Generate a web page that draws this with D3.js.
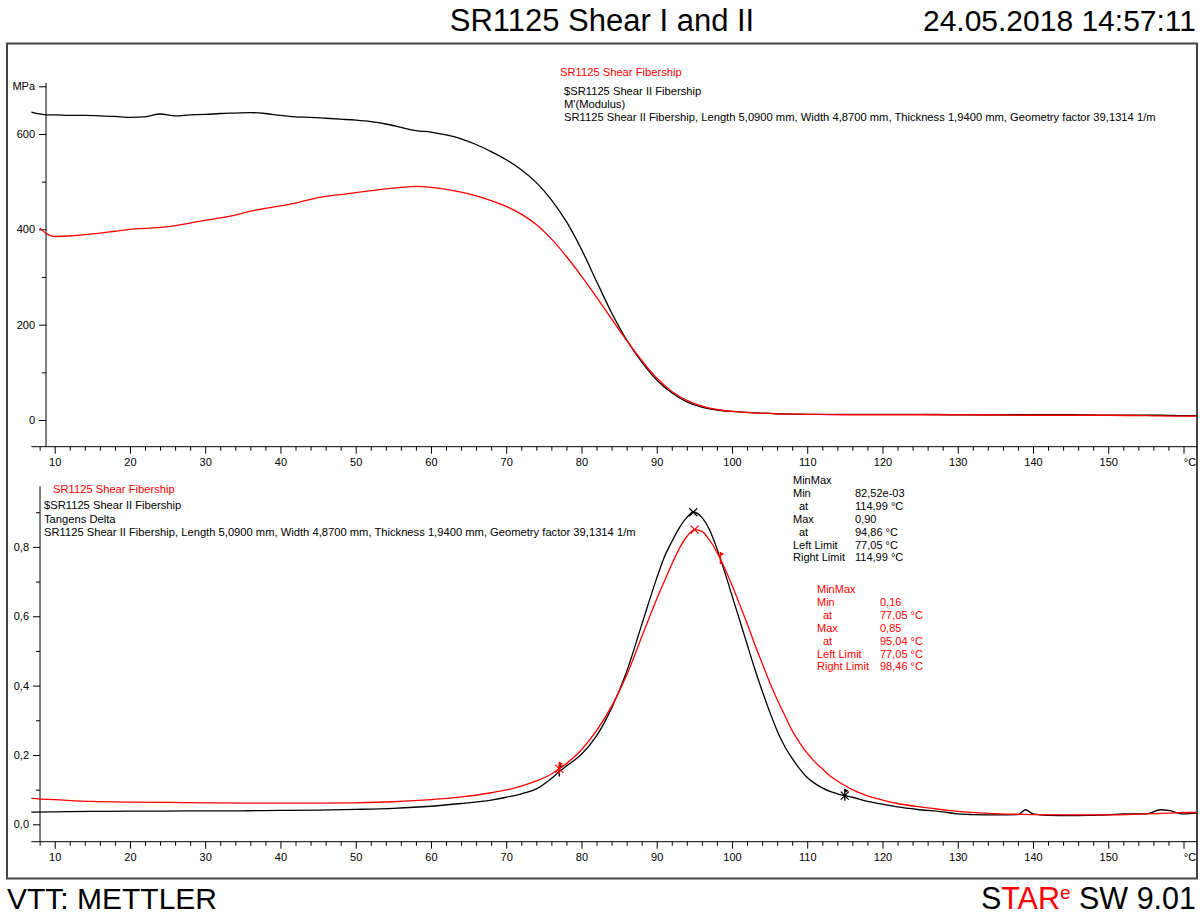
<!DOCTYPE html>
<html><head><meta charset="utf-8">
<script src="https://cdn.jsdelivr.net/npm/d3@7"></script>
<style>
html,body{margin:0;padding:0;background:#fff;}
svg{display:block;}
text{font-family:"Liberation Sans",Arial,sans-serif;}
</style></head><body>
<svg id="chart" width="1200" height="915"></svg>
<script>
// ---- Storage modulus M' (MPa) versus temperature (°C) ----
const modTempI = [8,9,10,12,14,16,18,20,22,24,26,28,30,32,34,36,38,40,42,44,46,48,50,52,54,56,58,60,62,64,66,68,70,72,74,76,78,80,82,84,86,88,90,92,94,96,98,100,103,106,110,115,120,130,140,150,155,160,161.8];
const modShearI = [403,390,385,386,389,392,396,400,402,404,408,413,419,424,430,438,444,449,455,463,469,473,477,481,485,488,490,488,484,478,470,460,448,432,410,380,343,302,258,212,167,125,88,60,41,29,22,18,15,13,12,11,11,11,10,10,9,8,8];
const modTempII = [6.9,8,9,10,12,14,16,18,20,22,24,26,28,30,32,34,36,38,40,42,44,46,48,50,52,54,56,58,60,62,64,66,68,70,72,74,76,78,80,82,84,86,88,90,92,94,96,98,100,103,106,110,115,120,125,130,135,140,145,150,155,157,160,161.8];
const modShearII = [646,642,640,640,639,639,638,637,635,636,642,638,640,641,643,644,645,643,639,636,635,633,631,629,626,621,614,607,604,598,590,578,563,546,525,498,462,416,358,291,225,168,122,84,57,38,27,21,18,15,13,12,12,12,12,11,11,11,11,10,10,10,9,9];

// ---- Tangens Delta versus temperature (°C) ----
const tanTempI = [6.9,9,10,15,20,25,30,35,40,45,50,55,60,64,68,70,72,74,76,77.05,78,80,82,84,86,88,90,91,92,93,94,95.04,96,97,98,98.46,99,100,101,102,103,104,105,106,107,108,109,110,111,112,113,114,115,116,118,120,122,125,128,130,135,140,145,150,155,158,160,161.8];
const tanDeltaI = [0.075,0.072,0.071,0.066,0.064,0.063,0.062,0.061,0.061,0.061,0.062,0.065,0.071,0.079,0.091,0.099,0.11,0.125,0.145,0.16,0.175,0.215,0.27,0.34,0.43,0.54,0.65,0.70,0.75,0.795,0.83,0.85,0.845,0.82,0.785,0.765,0.74,0.69,0.635,0.58,0.52,0.465,0.41,0.36,0.315,0.27,0.235,0.205,0.18,0.16,0.14,0.125,0.112,0.1,0.082,0.07,0.06,0.05,0.042,0.037,0.031,0.028,0.027,0.027,0.03,0.032,0.034,0.034];
const tanTempII = [6.9,10,15,20,25,30,35,40,45,50,55,60,64,68,70,72,74,76,77.05,78,80,82,84,86,88,90,91,92,93,94,94.86,96,97,98,99,100,101,102,103,104,105,106,107,108,109,110,111,112,113,114,114.99,116,118,120,122,125,128,130,132,135,138,139,140,142,145,148,150,152,155,157,158,160,161.8];
const tanDeltaII = [0.035,0.036,0.037,0.038,0.038,0.039,0.039,0.040,0.041,0.043,0.046,0.052,0.060,0.070,0.078,0.088,0.102,0.132,0.152,0.168,0.202,0.255,0.335,0.44,0.575,0.71,0.77,0.815,0.855,0.885,0.90,0.885,0.85,0.795,0.73,0.66,0.59,0.52,0.45,0.385,0.325,0.27,0.225,0.19,0.16,0.135,0.118,0.105,0.095,0.088,0.0825,0.078,0.066,0.058,0.05,0.042,0.036,0.03,0.028,0.027,0.028,0.042,0.03,0.026,0.025,0.026,0.027,0.03,0.03,0.042,0.04,0.03,0.032];

// evaluation results
const evalII = {minV:0.0825, minT:114.99, maxV:0.90, maxT:94.86, left:77.05, right:114.99};
const evalI  = {minV:0.16, minT:77.05, maxV:0.85, maxT:95.04, left:77.05, right:98.46};
const evalIIText = [["MinMax",""],["Min","82,52e-03"],["  at","114,99 °C"],["Max","0,90"],["  at","94,86 °C"],["Left Limit","77,05 °C"],["Right Limit","114,99 °C"]];
const evalIText  = [["MinMax",""],["Min","0,16"],["  at","77,05 °C"],["Max","0,85"],["  at","95,04 °C"],["Left Limit","77,05 °C"],["Right Limit","98,46 °C"]];

const xMajor = d3.range(10, 161, 10);
const xMinor = d3.range(8, 161, 2).filter(v => v % 10 !== 0);
const modMajor = [0,200,400,600,700];
const modMinor = [100,300,500];
const tanMajor = [0,0.2,0.4,0.6,0.8];
const tanMinor = [0.1,0.3,0.5,0.7,0.9];

const RED = "#ff0000", BLACK = "#000000";
const svg = d3.select("#chart");

// scales
const x = d3.scaleLinear().domain([10,160]).range([54.7,1183.5]);
const yTop = d3.scaleLinear().domain([0,600]).range([420,134]);
const yBot = d3.scaleLinear().domain([0,0.8]).range([824.3,546.9]);

// outer frame
svg.append("rect").attr("x",7).attr("y",43.5).attr("width",1190).attr("height",835)
  .attr("fill","none").attr("stroke","#444").attr("stroke-width",2);

// header and footer
svg.append("text").attr("x",602).attr("y",31).attr("text-anchor","middle")
  .attr("font-size",31).text("SR1125 Shear I and II");
svg.append("text").attr("x",1196).attr("y",31).attr("text-anchor","end")
  .attr("font-size",30).text("24.05.2018 14:57:11");
svg.append("text").attr("x",7).attr("y",909).attr("font-size",30).text("VTT: METTLER");
const logo = svg.append("text").attr("x",1196).attr("y",909).attr("text-anchor","end").attr("font-size",30.5);
logo.append("tspan").text("S");
logo.append("tspan").attr("fill",RED).text("TAR");
logo.append("tspan").attr("fill",RED).attr("font-size",19).attr("dy",-10).text("e");
logo.append("tspan").attr("dy",10).text(" SW 9.01");

function commaFmt(d){ return d3.format(".1f")(d).replace(".", ","); }

function drawXAxis(yPix){
  const g = svg.append("g").attr("transform",`translate(0,${yPix})`);
  g.append("line").attr("x1",x(6.9)).attr("x2",1197).attr("stroke","#000");
  const maj = g.append("g").call(d3.axisBottom(x).tickValues(xMajor).tickSize(7).tickPadding(5)
    .tickFormat(d => d === 160 ? "°C" : d));
  maj.select(".domain").remove();
  maj.selectAll("text").attr("font-size",11).attr("font-family","Liberation Sans, Arial, sans-serif");
  maj.selectAll(".tick").filter(d => d === 160).select("text").attr("dx",6);
  const mn = g.append("g").call(d3.axisBottom(x).tickValues(xMinor).tickSize(4).tickFormat(""));
  mn.select(".domain").remove();
}

function drawYAxis(xT, y, major, minor, fmt, ext){
  const g = svg.append("g").attr("transform",`translate(${x(xT)},0)`);
  g.append("line").attr("y1",y(ext[0])).attr("y2",y(ext[1])).attr("stroke","#000");
  const maj = g.append("g").call(d3.axisLeft(y).tickValues(major).tickSize(7).tickPadding(4).tickFormat(fmt));
  maj.select(".domain").remove();
  maj.selectAll("text").attr("font-size",11).attr("font-family","Liberation Sans, Arial, sans-serif");
  const mn = g.append("g").call(d3.axisLeft(y).tickValues(minor).tickSize(4).tickFormat(""));
  mn.select(".domain").remove();
}

// ---- upper plot: modulus ----
drawXAxis(446.7);
drawYAxis(8.85, yTop, modMajor, modMinor, d => d === 700 ? "MPa" : d, [-56, 707]);

const lineTop = d3.line().x(d => x(d[0])).y(d => yTop(d[1])).curve(d3.curveMonotoneX);
svg.append("path").datum(d3.zip(modTempII, modShearII)).attr("d", lineTop)
  .attr("fill","none").attr("stroke",BLACK).attr("stroke-width",1.3);
svg.append("path").datum(d3.zip(modTempI, modShearI)).attr("d", lineTop)
  .attr("fill","none").attr("stroke",RED).attr("stroke-width",1.3);

// ---- lower plot: tan delta ----
drawXAxis(841.7);
drawYAxis(8.05, yBot, tanMajor, tanMinor, commaFmt, [-0.05, 0.975]);

const lineBot = d3.line().x(d => x(d[0])).y(d => yBot(d[1])).curve(d3.curveMonotoneX);
svg.append("path").datum(d3.zip(tanTempII, tanDeltaII)).attr("d", lineBot)
  .attr("fill","none").attr("stroke",BLACK).attr("stroke-width",1.3);
svg.append("path").datum(d3.zip(tanTempI, tanDeltaI)).attr("d", lineBot)
  .attr("fill","none").attr("stroke",RED).attr("stroke-width",1.3);

// evaluation markers
function crossMark(t, v, color){
  const cx = x(t), cy = yBot(v), s = 4;
  svg.append("path").attr("d",`M${cx-s},${cy-s}L${cx+s},${cy+s}M${cx-s},${cy+s}L${cx+s},${cy-s}`)
    .attr("stroke",color).attr("stroke-width",1.2).attr("fill","none");
}
function limitMark(t, v, color){
  const cx = x(t), cy = yBot(v);
  svg.append("line").attr("x1",cx).attr("x2",cx).attr("y1",cy-7).attr("y2",cy+5)
    .attr("stroke",color).attr("stroke-width",1.3);
  svg.append("path").attr("d",`M${cx},${cy-7}L${cx+4},${cy-5}L${cx},${cy-3}Z`).attr("fill",color);
}
crossMark(evalII.maxT, evalII.maxV, BLACK);
crossMark(evalII.minT, evalII.minV, BLACK);
limitMark(evalII.left, 0.152, BLACK);
limitMark(evalII.right, evalII.minV, BLACK);
crossMark(evalI.maxT, evalI.maxV, RED);
crossMark(evalI.minT, evalI.minV, RED);
limitMark(evalI.left, evalI.minV, RED);
limitMark(evalI.right, 0.765, RED);

// ---- annotation text ----
function textBlock(x0, y0, lines, dy, color){
  lines.forEach((s, i) => svg.append("text").attr("x",x0).attr("y",y0 + i*dy)
    .attr("font-size",11.2).attr("fill",color).text(s));
}
const specimen = "SR1125 Shear II Fibership, Length 5,0900 mm, Width 4,8700 mm, Thickness 1,9400 mm, Geometry factor 39,1314 1/m";
textBlock(560, 76, ["SR1125 Shear Fibership"], 0, RED);
textBlock(564, 95, ["$SR1125 Shear II Fibership", "M'(Modulus)", specimen], 13, BLACK);
textBlock(53, 493, ["SR1125 Shear Fibership"], 0, RED);
textBlock(44, 509, ["$SR1125 Shear II Fibership", "Tangens Delta", specimen], 13.5, BLACK);

function evalBlock(x0, xv, y0, rows, color){
  rows.forEach((r, i) => {
    const indent = r[0].startsWith("  ") ? 6 : 0;
    svg.append("text").attr("x", x0 + indent).attr("y", y0 + i*12.9).attr("font-size",11)
      .attr("fill",color).text(r[0].trim());
    svg.append("text").attr("x", xv).attr("y", y0 + i*12.9).attr("font-size",11)
      .attr("fill",color).text(r[1]);
  });
}
evalBlock(793, 855, 484, evalIIText, BLACK);
evalBlock(817, 880, 593, evalIText, RED);
</script>
</body></html>
